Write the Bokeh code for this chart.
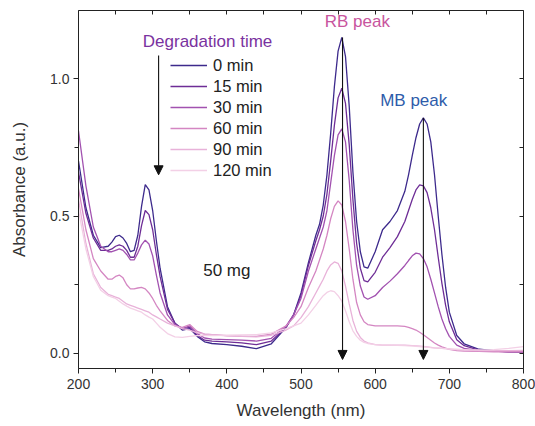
from bokeh.plotting import figure
from bokeh.models import (Range1d, LinearAxis, SingleIntervalTicker, NumeralTickFormatter,
                          Legend, LegendItem, Label, Arrow, NormalHead)
from bokeh.embed import file_html
from bokeh.resources import INLINE

wavelength = [200, 210, 220, 230, 240,
              245, 250, 255, 260, 265, 270, 275, 280, 285, 290, 295, 300, 305,
              310, 320, 330, 340, 350, 360, 370, 380,
              400, 420, 440, 460, 480,
              490, 500, 510, 520, 525, 530, 535, 540, 545, 550, 555, 560, 565, 570, 575, 580, 585, 590,
              600, 610, 620, 630, 640, 645, 650, 655, 660, 665, 670, 675, 680, 685, 690, 695, 700,
              710, 720, 740, 760, 780, 800]

abs_0 = [0.70, 0.53, 0.43, 0.385, 0.39,
         0.405, 0.425, 0.43, 0.42, 0.40, 0.37, 0.375, 0.43, 0.535, 0.614, 0.595, 0.52, 0.41,
         0.31, 0.17, 0.11, 0.085, 0.09, 0.062, 0.042, 0.036,
         0.032, 0.026, 0.017, 0.035, 0.095,
         0.14, 0.22, 0.33, 0.43, 0.47, 0.54, 0.65, 0.80, 0.97, 1.10, 1.15, 1.08, 0.90, 0.66, 0.48, 0.37, 0.315, 0.31,
         0.37, 0.45, 0.48, 0.52, 0.59, 0.65, 0.72, 0.785, 0.835, 0.857, 0.835, 0.77, 0.65, 0.50, 0.36, 0.24, 0.15,
         0.065, 0.035, 0.015, 0.01, 0.006, 0.005]

abs_15 = [0.66, 0.51, 0.42, 0.375, 0.375,
          0.38, 0.39, 0.395, 0.39, 0.375, 0.35, 0.35, 0.39, 0.465, 0.52, 0.505, 0.45, 0.36,
          0.28, 0.16, 0.11, 0.09, 0.095, 0.066, 0.048, 0.045,
          0.042, 0.038, 0.032, 0.045, 0.095,
          0.14, 0.21, 0.32, 0.41, 0.45, 0.50, 0.58, 0.70, 0.83, 0.93, 0.965, 0.91, 0.76, 0.56, 0.40, 0.31, 0.265, 0.26,
          0.295, 0.35, 0.385, 0.425, 0.48, 0.52, 0.56, 0.595, 0.613, 0.61, 0.585, 0.53, 0.45, 0.35, 0.255, 0.175, 0.115,
          0.05, 0.028, 0.012, 0.008, 0.006, 0.005]

abs_30 = [0.81, 0.61, 0.46, 0.39, 0.37,
          0.37, 0.375, 0.38, 0.375, 0.36, 0.34, 0.34, 0.365, 0.395, 0.412, 0.398, 0.355, 0.285,
          0.22, 0.14, 0.105, 0.09, 0.10, 0.072, 0.056, 0.052,
          0.05, 0.048, 0.045, 0.055, 0.10,
          0.14, 0.20, 0.30, 0.38, 0.42, 0.46, 0.52, 0.62, 0.72, 0.795, 0.817, 0.77, 0.63, 0.45, 0.32, 0.245, 0.205, 0.197,
          0.21, 0.24, 0.263, 0.29, 0.32, 0.338, 0.355, 0.365, 0.362, 0.345, 0.315, 0.27, 0.22, 0.17, 0.125, 0.09, 0.062,
          0.03, 0.018, 0.01, 0.008, 0.006, 0.006]

abs_60 = [0.60, 0.45, 0.345, 0.30, 0.27,
          0.27, 0.28, 0.285, 0.275, 0.25, 0.235, 0.235, 0.238, 0.24, 0.235, 0.22, 0.20, 0.175,
          0.155, 0.12, 0.10, 0.095, 0.105, 0.08, 0.07, 0.068,
          0.065, 0.063, 0.062, 0.07, 0.10,
          0.13, 0.17, 0.24, 0.30, 0.34, 0.38, 0.43, 0.49, 0.535, 0.555, 0.54, 0.48, 0.38, 0.27, 0.185, 0.14, 0.115, 0.105,
          0.10, 0.10, 0.10, 0.10, 0.098, 0.095, 0.09, 0.085, 0.077, 0.068, 0.058, 0.048, 0.038, 0.03, 0.024, 0.019, 0.015,
          0.01, 0.008, 0.007, 0.006, 0.006, 0.006]

abs_90 = [0.56, 0.40, 0.29, 0.24, 0.215,
          0.21, 0.205, 0.20, 0.19, 0.18, 0.175, 0.17, 0.165, 0.16, 0.155, 0.15, 0.14, 0.133,
          0.125, 0.11, 0.10, 0.09, 0.085, 0.075, 0.07, 0.068,
          0.064, 0.062, 0.06, 0.066, 0.085,
          0.10, 0.13, 0.17, 0.22, 0.245, 0.27, 0.30, 0.322, 0.333, 0.328, 0.30, 0.245, 0.18, 0.12, 0.08, 0.058, 0.045, 0.038,
          0.032, 0.03, 0.03, 0.03, 0.03, 0.029, 0.028, 0.027, 0.026, 0.025, 0.024, 0.022, 0.02, 0.019, 0.018, 0.017, 0.016,
          0.013, 0.012, 0.01, 0.01, 0.01, 0.011]

abs_120 = [0.52, 0.38, 0.28, 0.23, 0.21,
           0.205, 0.20, 0.19, 0.18, 0.172, 0.165, 0.16, 0.155, 0.15, 0.14, 0.132, 0.125, 0.11,
           0.095, 0.072, 0.06, 0.058, 0.062, 0.065, 0.065, 0.065,
           0.066, 0.067, 0.068, 0.075, 0.09,
           0.10, 0.11, 0.14, 0.175, 0.193, 0.21, 0.222, 0.228, 0.225, 0.21, 0.19, 0.155, 0.115, 0.082, 0.062, 0.048, 0.04, 0.036,
           0.032, 0.03, 0.03, 0.029, 0.028, 0.027, 0.027, 0.026, 0.025, 0.024, 0.023, 0.021, 0.02, 0.019, 0.018, 0.017, 0.016,
           0.015, 0.014, 0.013, 0.014, 0.018, 0.025]

series_labels = ["0 min", "15 min", "30 min", "60 min", "90 min", "120 min"]
series_values = [abs_0, abs_15, abs_30, abs_60, abs_90, abs_120]
series_colors = ["#3D2A8C", "#6E2D96", "#A252B0", "#D486C2", "#E8B2D9", "#F3D0E6"]

FONT = "Liberation Sans"

p = figure(width=535, height=426, output_backend="svg", toolbar_location=None,
           x_range=Range1d(200, 800), y_range=Range1d(-0.055, 1.248),
           min_border_left=78, min_border_right=12, min_border_top=10, min_border_bottom=58)
p.background_fill_color = "white"
p.border_fill_color = "white"
p.outline_line_color = None
p.xgrid.visible = False
p.ygrid.visible = False

xa = p.xaxis[0]
xa.ticker = SingleIntervalTicker(interval=100, num_minor_ticks=2)
xa.axis_label = "Wavelength (nm)"
ya = p.yaxis[0]
ya.ticker = SingleIntervalTicker(interval=0.5, num_minor_ticks=2)
ya.formatter = NumeralTickFormatter(format="0.0")
ya.axis_label = "Absorbance (a.u.)"
for ax in (xa, ya):
    ax.axis_line_color = "#222222"
    ax.major_tick_line_color = "#222222"
    ax.minor_tick_line_color = "#222222"
    ax.major_tick_in = 0
    ax.major_tick_out = 5
    ax.minor_tick_in = 0
    ax.minor_tick_out = 4
    ax.major_label_text_font = FONT
    ax.major_label_text_font_size = "14px"
    ax.major_label_text_color = "#333333"
    ax.axis_label_text_font = FONT
    ax.axis_label_text_font_size = "17px"
    ax.axis_label_text_font_style = "normal"
    ax.axis_label_text_color = "#333333"
xa.major_label_standoff = 5
xa.axis_label_standoff = 9
ya.major_label_standoff = 4
ya.axis_label_standoff = 18

top = LinearAxis(ticker=SingleIntervalTicker(interval=50, num_minor_ticks=0))
right = LinearAxis(ticker=SingleIntervalTicker(interval=0.25, num_minor_ticks=0))
for ax in (top, right):
    ax.axis_line_color = "#222222"
    ax.major_tick_line_color = "#222222"
    ax.major_tick_in = 4
    ax.major_tick_out = 0
    ax.minor_tick_line_color = None
    ax.major_label_text_color = None
    ax.major_label_text_font_size = "1px"
    ax.major_label_standoff = 0
    ax.axis_label = None
p.add_layout(top, "above")
p.add_layout(right, "right")

items = []
for lab, vals, col in zip(series_labels, series_values, series_colors):
    r = p.line(wavelength, vals, line_color=col, line_width=1.3)
    items.append(LegendItem(label=lab, renderers=[r]))

legend = Legend(items=items, location=(92, 188), orientation="vertical",
                glyph_width=37, glyph_height=20, label_height=20, spacing=1,
                label_standoff=6, padding=0, margin=0,
                label_text_font=FONT, label_text_font_size="16.5px",
                label_text_color="#222222",
                border_line_alpha=0, background_fill_alpha=0)
p.add_layout(legend, "center")

p.add_layout(Label(x=374, y=1.135, text="Degradation time", text_align="center",
                   text_baseline="middle", text_font=FONT, text_font_size="17px",
                   text_color="#7A32A0"))
p.add_layout(Label(x=576, y=1.208, text="RB peak", text_align="center",
                   text_baseline="middle", text_font=FONT, text_font_size="17px",
                   text_color="#C8559E"))
p.add_layout(Label(x=652, y=0.92, text="MB peak", text_align="center",
                   text_baseline="middle", text_font=FONT, text_font_size="17px",
                   text_color="#2E5CAA"))
p.add_layout(Label(x=400, y=0.303, text="50 mg", text_align="center",
                   text_baseline="middle", text_font=FONT, text_font_size="17px",
                   text_color="#222222"))

for (xs, y0, y1) in [(308, 1.084, 0.650), (556, 1.15, -0.022), (665, 0.857, -0.022)]:
    p.add_layout(Arrow(end=NormalHead(size=9, fill_color="#111111", line_color="#111111"),
                       x_start=xs, y_start=y0, x_end=xs, y_end=y1,
                       line_color="#111111", line_width=1.1))

open("out.html", "w").write(file_html(p, INLINE))
